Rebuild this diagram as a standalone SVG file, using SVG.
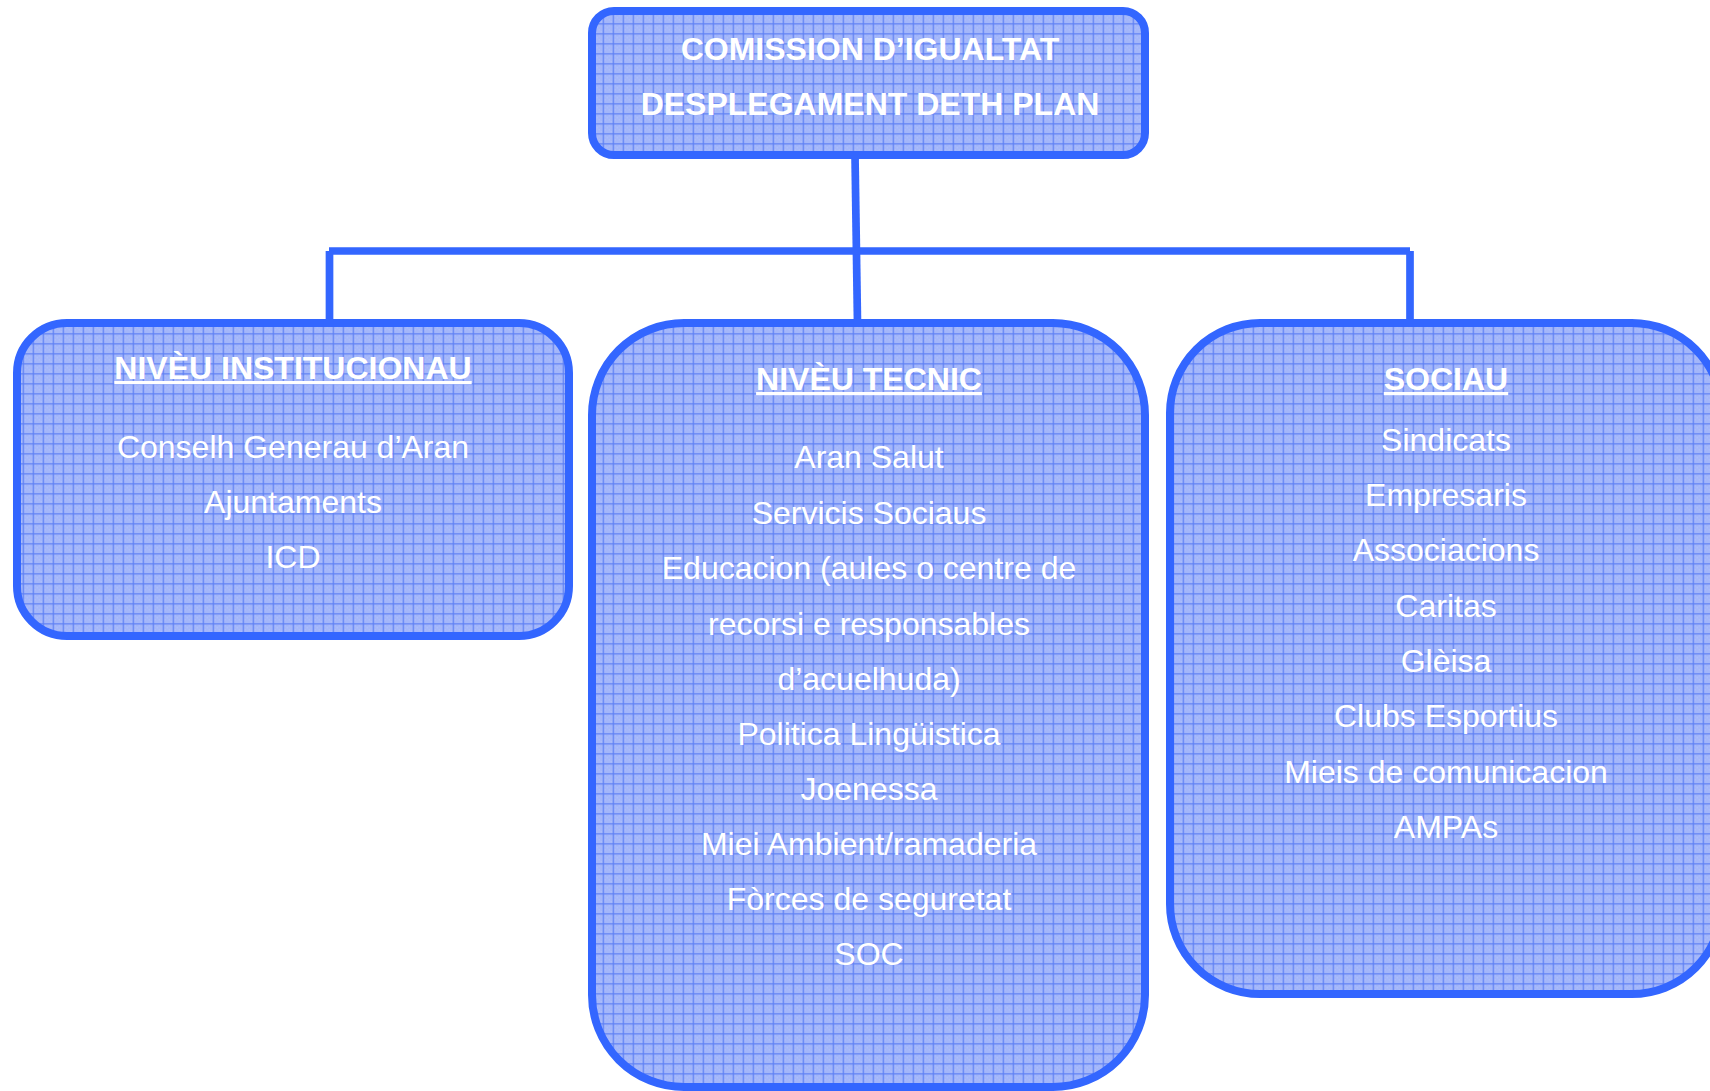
<svg xmlns="http://www.w3.org/2000/svg" width="1710" height="1091" viewBox="0 0 1710 1091">
<style>
.box{fill:url(#grid);stroke:#3366ff;stroke-width:8}
.conn{stroke:#3366ff;stroke-width:7.7;fill:none;stroke-linecap:butt}
.t{font-family:"Liberation Sans",Arial,Helvetica,sans-serif;font-size:32px;fill:#ffffff;text-anchor:middle}
.b{font-weight:bold}
.u{font-weight:bold;text-decoration:underline}
</style>
<defs>
<pattern id="grid" patternUnits="userSpaceOnUse" x="2.7" y="3.3" width="10" height="10">
<rect width="10" height="10" fill="#a3b6fa"/>
<rect x="2" y="2" width="1" height="1" fill="#b3c2fa"/>
<rect x="4" y="4" width="1" height="1" fill="#b3c2fa"/>
<rect x="6" y="6" width="1" height="1" fill="#b3c2fa"/>
<rect x="8" y="8" width="1" height="1" fill="#b3c2fa"/>
<rect x="6" y="2" width="1" height="1" fill="#b3c2fa"/>
<rect x="2" y="6" width="1" height="1" fill="#b3c2fa"/>
<rect x="0" y="0" width="10" height="1.2" fill="#5e80f4"/>
<rect x="0" y="0" width="1.2" height="10" fill="#5e80f4"/>
</pattern>
</defs>
<g id="connectors">
<line class="conn" x1="855" y1="155" x2="857.5" y2="323"/>
<line class="conn" x1="329" y1="251" x2="1410" y2="251"/>
<line class="conn" x1="329.5" y1="251" x2="329.5" y2="323"/>
<line class="conn" x1="1410" y1="251" x2="1410" y2="323"/>
</g>
<g id="top">
<rect class="box" x="592" y="11" width="553" height="144" rx="22"/>
<text class="t b" x="870" y="60">COMISSION D’IGUALTAT</text>
<text class="t b" x="870" y="115">DESPLEGAMENT DETH PLAN</text>
</g>
<g id="institucionau">
<rect class="box" x="17" y="323" width="552" height="313" rx="50"/>
<text class="t u" x="293" y="379">NIVÈU INSTITUCIONAU</text>
<text class="t" x="293" y="457.5">Conselh Generau d’Aran</text>
<text class="t" x="293" y="512.5">Ajuntaments</text>
<text class="t" x="293" y="568">ICD</text>
</g>
<g id="tecnic">
<rect class="box" x="592" y="323" width="553" height="764" rx="92"/>
<text class="t u" x="869" y="390">NIVÈU TECNIC</text>
<text class="t" x="869" y="468.3">Aran Salut</text>
<text class="t" x="869" y="523.5">Servicis Sociaus</text>
<text class="t" x="869" y="579">Educacion (aules o centre de</text>
<text class="t" x="869" y="634.5">recorsi e responsables</text>
<text class="t" x="869" y="689.5">d’acuelhuda)</text>
<text class="t" x="869" y="744.5">Politica Lingüistica</text>
<text class="t" x="869" y="800">Joenessa</text>
<text class="t" x="869" y="855.3">Miei Ambient/ramaderia</text>
<text class="t" x="869" y="910">Fòrces de seguretat</text>
<text class="t" x="869" y="965">SOC</text>
</g>
<g id="sociau">
<rect class="box" x="1170" y="323" width="552" height="671" rx="90"/>
<text class="t u" x="1446" y="390">SOCIAU</text>
<text class="t" x="1446" y="450.7">Sindicats</text>
<text class="t" x="1446" y="506">Empresaris</text>
<text class="t" x="1446" y="561.3">Associacions</text>
<text class="t" x="1446" y="616.6">Caritas</text>
<text class="t" x="1446" y="672">Glèisa</text>
<text class="t" x="1446" y="727.2">Clubs Esportius</text>
<text class="t" x="1446" y="782.5">Mieis de comunicacion</text>
<text class="t" x="1446" y="837.8">AMPAs</text>
</g>
</svg>
